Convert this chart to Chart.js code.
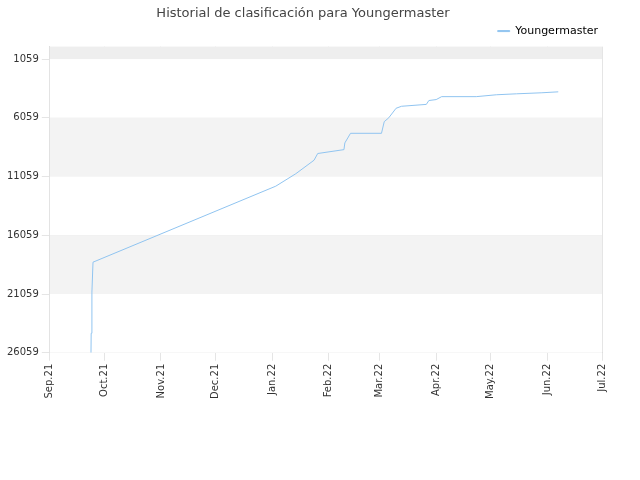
<!DOCTYPE html>
<html><head><meta charset="utf-8">
<script src="https://cdn.jsdelivr.net/npm/chart.js"></script>
<style>body{margin:0;background:#fff}</style>
</head><body><canvas id="c" width="640" height="480"></canvas>
<script>
const monthLabels=["Sep.21","Oct.21","Nov.21","Dec.21","Jan.22","Feb.22","Mar.22","Apr.22","May.22","Jun.22","Jul.22"];
const monthDays=[0,30,61,91,122,153,181,212,242,273,303];
const days=[22.6,22.7,23.1,23.7,124,135,145,147,161.4,161.9,165,182,183.5,186,190,193,206.6,208,212,215,234,245,256,270,279];
const ranks=[26059,24400,20900,18350,11880,10820,9670,9100,8770,8200,7380,7380,6390,6060,5250,5080,4920,4590,4510,4260,4260,4100,4020,3930,3850];
const yTicks=[1059,6059,11059,16059,21059,26059];
const bands={id:'bands',beforeDatasetsDraw(ch){const {ctx,chartArea:a,scales:{y}}=ch;ctx.save();
 const edges=[0,1059,6059,11059,16059,21059,26059];const cols=['#eeeeee','#ffffff','#f3f3f3','#ffffff','#f3f3f3','#ffffff'];
 for(let i=0;i<6;i++){const t=y.getPixelForValue(edges[i]),b=y.getPixelForValue(edges[i+1]);ctx.fillStyle=cols[i];ctx.fillRect(a.left,t,a.right-a.left,b-t);}
 ctx.restore();}};
new Chart(document.getElementById('c'),{type:'line',
data:{datasets:[{label:'Youngermaster',data:days.map((d,i)=>({x:d,y:ranks[i]})),borderColor:'#90c4f0',backgroundColor:'#90c4f0',borderWidth:1,pointRadius:0,tension:0}]},
options:{responsive:false,animation:false,
layout:{padding:{left:4,right:38,top:0,bottom:78}},
plugins:{title:{display:true,text:'Historial de clasificación para Youngermaster',color:'#444',font:{family:'DejaVu Sans',size:13,weight:'normal'},padding:{top:6,bottom:0}},
legend:{position:'top',align:'end',labels:{boxWidth:12,boxHeight:1,padding:4,color:'#000',font:{family:'DejaVu Sans',size:11}}},tooltip:{enabled:false}},
scales:{x:{type:'linear',min:0,max:303,afterBuildTicks(s){s.ticks=monthDays.map(v=>({value:v}));},
 ticks:{autoSkip:false,maxRotation:90,minRotation:90,color:'#333',font:{family:'DejaVu Sans',size:10},callback:(v)=>monthLabels[monthDays.indexOf(v)]},
 grid:{color:'#e5e5e5'},border:{color:'#ddd'}},
y:{reverse:true,min:0,max:26059,afterBuildTicks(s){s.ticks=yTicks.map(v=>({value:v}));},
 ticks:{color:'#333',font:{family:'DejaVu Sans',size:10},callback:(v)=>String(v)},grid:{color:'#e5e5e5'},border:{color:'#ddd'}}}},
plugins:[bands]});
</script></body></html>
